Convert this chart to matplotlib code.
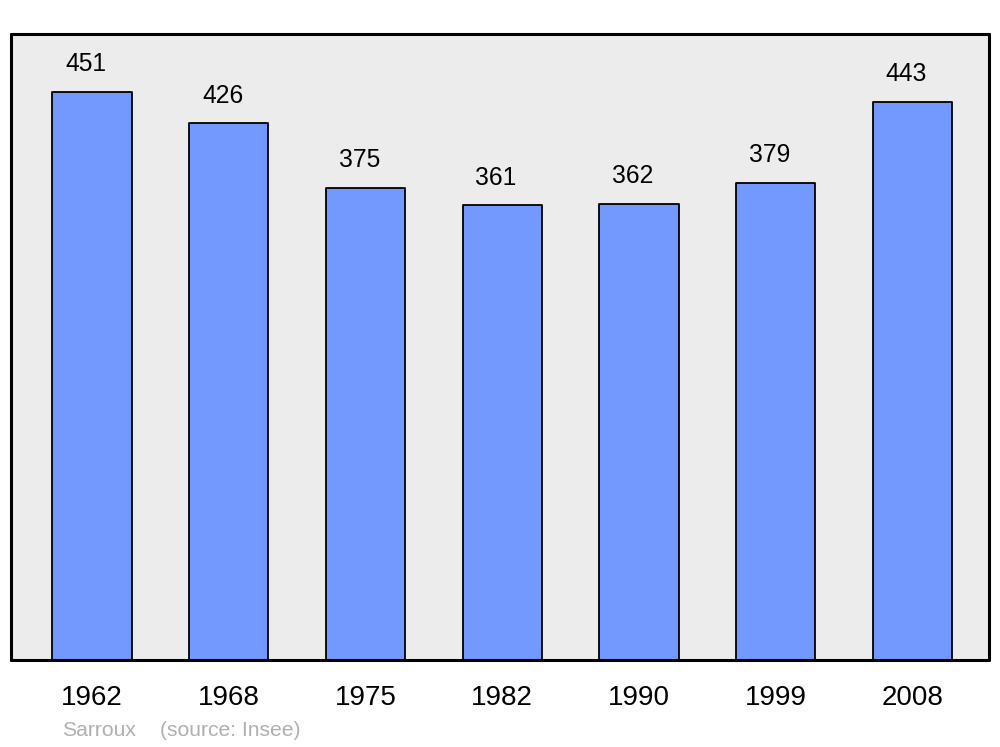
import matplotlib
matplotlib.use('Agg')
import matplotlib.pyplot as plt

years = ["1962", "1968", "1975", "1982", "1990", "1999", "2008"]
population = [451, 426, 375, 361, 362, 379, 443]
commune = "Sarroux"
source = "(source: Insee)"

plt.rcParams['font.family'] = ['Liberation Sans', 'DejaVu Sans']

fig = plt.figure(figsize=(10, 7.47), dpi=100)
ax = fig.add_axes([0.011, 1 - 660 / 747, 0.978, 626 / 747])
ax.set_facecolor('#ececec')

pos = list(range(len(years)))
bars = ax.bar(pos, population, width=0.58, color='#7399ff', edgecolor='black', linewidth=1.3)
for b in bars:
    b.set_joinstyle('round')

for i, v in zip(pos, population):
    ax.text(i - 0.045, v + 22, str(v), ha='center', va='center', fontsize=17.7)

ax.set_xlim(-0.592, 6.56)
ax.set_ylim(0, 497)
ax.set_yticks([])
ax.set_xticks(pos)
ax.set_xticklabels(years, fontsize=20)
ax.tick_params(axis='x', length=0, pad=18)
for s in ax.spines.values():
    s.set_linewidth(2.2)
    s.set_joinstyle('round')
    s.set_capstyle('round')

fig.text(0.062, 1 - 730 / 747, commune, color='#b0b0b0', fontsize=15.2, va='center')
fig.text(0.160, 1 - 730 / 747, source, color='#b0b0b0', fontsize=15.2, va='center')

fig.savefig('out.png', dpi=100)
